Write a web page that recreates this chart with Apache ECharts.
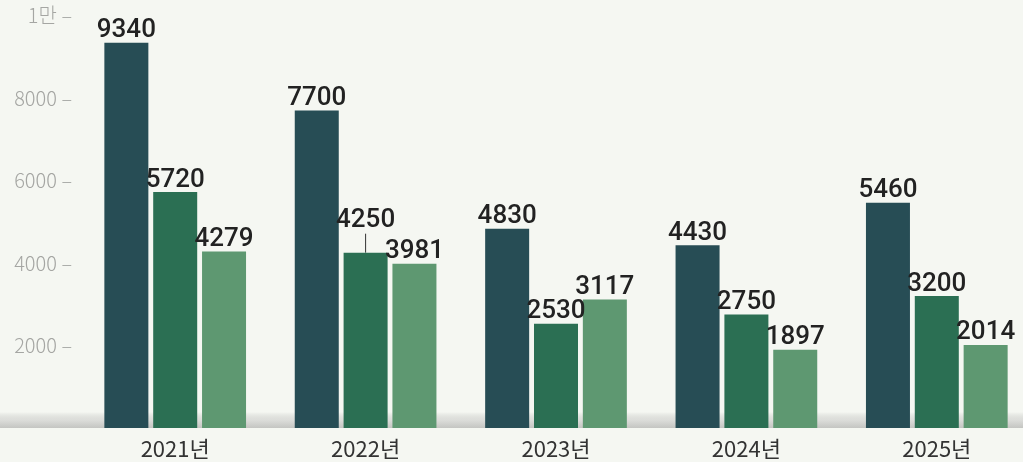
<!DOCTYPE html>
<html>
<head>
<meta charset="utf-8">
<script src="https://cdn.jsdelivr.net/npm/echarts@6/dist/echarts.min.js"></script>
<style>
  html, body { margin: 0; padding: 0; background: #f5f7f2; }
  #chart { width: 1023px; height: 462px; }
</style>
</head>
<body>
<div id="chart"></div>
<script>
// Yearly figures, three series per year
const years = ['2021년', '2022년', '2023년', '2024년', '2025년'];
const seriesA = [9340, 7700, 4830, 4430, 5460];
const seriesB = [5720, 4250, 2530, 2750, 3200];
const seriesC = [4279, 3981, 3117, 1897, 2014];
const yTicks = [2000, 4000, 6000, 8000, 10000];
const yTickText = ['2000', '4000', '6000', '8000', '1만'];

const colors = ['#274d55', '#2b6f53', '#5e9871'];

const chart = echarts.init(document.getElementById('chart'), null, { renderer: 'canvas' });

const valueLabel = {
  show: true,
  position: 'top',
  distance: -1,
  color: '#222',
  fontFamily: 'Roboto',
  fontWeight: 500,
  fontSize: 26
};

function barSeries(values, color, extra) {
  return Object.assign({
    type: 'bar',
    data: values,
    barWidth: 44,
    barGap: '11%',
    itemStyle: { color: color },
    label: valueLabel,
    z: 3
  }, extra || {});
}

// the 2022 middle bar has its label lifted with a leader line
const seriesBData = seriesB.map((v, i) => i === 1
  ? { value: v, labelLine: { show: true, lineStyle: { color: '#333', width: 1 } } }
  : v);

chart.setOption({
  backgroundColor: '#f5f7f2',
  animation: false,
  graphic: [{
    type: 'rect',
    left: 0,
    top: 412,
    shape: { width: 1023, height: 16 },
    style: {
      fill: new echarts.graphic.LinearGradient(0, 0, 0, 1, [
        { offset: 0, color: 'rgba(200,201,198,0)' },
        { offset: 0.5, color: '#dcddda' },
        { offset: 1, color: '#c4c5c2' }
      ])
    },
    z: 0
  }],
  grid: { left: 80, top: 15.5, width: 952, height: 412.5, outerBoundsMode: 'none', containLabel: false },
  xAxis: {
    type: 'category',
    data: years,
    axisLine: { show: false },
    axisTick: { show: false },
    axisLabel: {
      margin: 10,
      color: '#333',
      fontSize: 22,
      fontFamily: 'Noto Sans CJK KR'
    }
  },
  yAxis: {
    type: 'value',
    min: 0,
    max: 10000,
    interval: 2000,
    axisLine: { show: false },
    axisTick: { show: false },
    splitLine: { show: false },
    axisLabel: {
      margin: 8,
      color: '#a5a6a3',
      fontSize: 20,
      fontFamily: 'Noto Sans CJK KR',
      fontWeight: 300,
      formatter: function (v) {
        const k = yTicks.indexOf(v);
        return k < 0 ? '' : yTickText[k] + ' –';
      }
    }
  },
  series: [
    barSeries(seriesA, colors[0]),
    barSeries(seriesBData, colors[1], {
      labelLayout: function (p) {
        if (p.dataIndex === 1) return { dy: -20 };
      }
    }),
    barSeries(seriesC, colors[2])
  ]
});
</script>
</body>
</html>
